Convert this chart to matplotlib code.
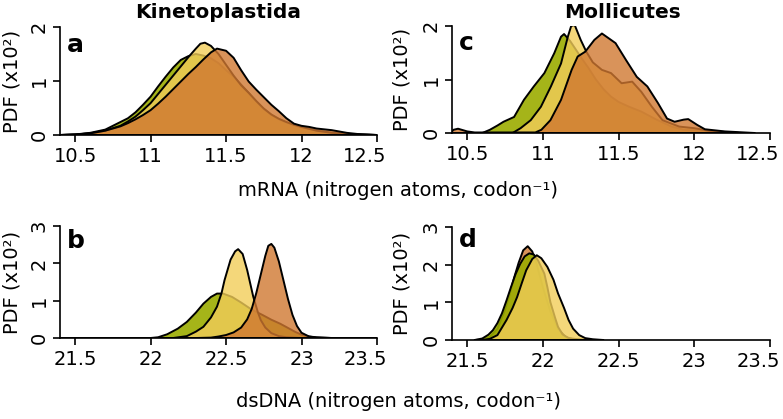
import matplotlib
matplotlib.use("Agg")
import matplotlib.pyplot as plt
import matplotlib.transforms as mtransforms

plt.rcParams['font.family'] = ['DejaVu Sans']

# panel a: Kinetoplastida mRNA
a_green_x = [10.4, 10.5, 10.6, 10.7, 10.8, 10.85, 10.9, 10.95, 11.0, 11.05, 11.1, 11.15, 11.2, 11.25, 11.3,
             11.35, 11.4, 11.45, 11.5, 11.55, 11.6, 11.65, 11.7, 11.75, 11.8, 11.85, 11.9, 11.95, 12.0,
             12.1, 12.2, 12.3, 12.4, 12.5]
a_green_y = [0.0, 0.01, 0.04, 0.1, 0.24, 0.31, 0.42, 0.56, 0.71, 0.9, 1.08, 1.25, 1.39, 1.46, 1.5,
             1.47, 1.42, 1.33, 1.2, 1.08, 0.93, 0.78, 0.62, 0.48, 0.37, 0.29, 0.23, 0.18, 0.14,
             0.08, 0.04, 0.02, 0.01, 0.0]
a_yellow_x = [10.4, 10.5, 10.6, 10.7, 10.8, 10.85, 10.9, 10.95, 11.0, 11.05, 11.1, 11.15, 11.2, 11.25, 11.3,
              11.33, 11.36, 11.4, 11.45, 11.5, 11.55, 11.6, 11.65, 11.7, 11.75, 11.8, 11.85, 11.9, 11.95,
              12.0, 12.1, 12.2, 12.3, 12.4, 12.5]
a_yellow_y = [0.0, 0.01, 0.03, 0.08, 0.17, 0.25, 0.34, 0.46, 0.59, 0.76, 0.93, 1.1, 1.27, 1.44, 1.6,
              1.69, 1.71, 1.65, 1.5, 1.3, 1.1, 0.92, 0.78, 0.63, 0.49, 0.38, 0.3, 0.24, 0.19,
              0.15, 0.08, 0.04, 0.02, 0.01, 0.0]
a_orange_x = [10.4, 10.5, 10.6, 10.7, 10.8, 10.85, 10.9, 10.95, 11.0, 11.05, 11.1, 11.15, 11.2, 11.25, 11.3,
              11.35, 11.4, 11.44, 11.5, 11.55, 11.6, 11.65, 11.7, 11.75, 11.8, 11.85, 11.9, 11.95, 12.0,
              12.05, 12.1, 12.2, 12.3, 12.4, 12.5]
a_orange_y = [0.0, 0.01, 0.03, 0.08, 0.16, 0.22, 0.29, 0.37, 0.46, 0.58, 0.71, 0.85, 0.99, 1.13, 1.26,
              1.4, 1.53, 1.6, 1.56, 1.43, 1.2, 0.99, 0.84, 0.7, 0.56, 0.44, 0.31, 0.21, 0.17,
              0.15, 0.12, 0.09, 0.04, 0.01, 0.0]

# panel c: Mollicutes mRNA
c_green_x = [10.4, 10.6, 10.65, 10.7, 10.74, 10.81, 10.875, 10.94, 11.01, 11.075, 11.12, 11.14, 11.18, 11.22,
             11.26, 11.3, 11.35, 11.4, 11.45, 11.5, 11.57, 11.65, 11.75, 11.85, 11.93, 12.0, 12.1, 12.2, 12.3]
c_green_y = [0.0, 0.0, 0.06, 0.14, 0.21, 0.3, 0.62, 0.87, 1.12, 1.49, 1.8, 1.85, 1.72, 1.55,
             1.38, 1.22, 1.0, 0.82, 0.68, 0.58, 0.49, 0.4, 0.25, 0.12, 0.06, 0.05, 0.04, 0.02, 0.0]
c_yellow_x = [10.4, 10.8, 10.853, 10.92, 10.987, 11.053, 11.12, 11.165, 11.187, 11.21, 11.25, 11.287,
              11.33, 11.39, 11.45, 11.52, 11.59, 11.65, 11.72, 11.79, 11.9, 12.0, 12.1, 12.2, 12.3]
c_yellow_y = [0.0, 0.0, 0.09, 0.24, 0.49, 0.87, 1.3, 1.8, 2.0, 2.02, 1.74, 1.52,
              1.32, 1.18, 1.12, 0.93, 0.96, 0.77, 0.49, 0.24, 0.12, 0.09, 0.04, 0.01, 0.0]
c_orange_x = [10.39, 10.41, 10.44, 10.5, 10.55, 10.95, 10.99, 11.05, 11.12, 11.19, 11.23, 11.28, 11.34, 11.39,
              11.48, 11.55, 11.62, 11.69, 11.76, 11.82, 11.87, 11.93, 11.96, 12.02, 12.07, 12.2, 12.4]
c_orange_y = [0.0, 0.06, 0.08, 0.03, 0.01, 0.01, 0.06, 0.24, 0.62, 1.18, 1.43, 1.52, 1.74, 1.86,
              1.68, 1.36, 1.05, 0.87, 0.56, 0.27, 0.21, 0.25, 0.26, 0.15, 0.07, 0.03, 0.0]

# panel b: Kinetoplastida dsDNA
b_green_x = [21.4, 22.0, 22.05, 22.11, 22.18, 22.24, 22.3, 22.35, 22.4, 22.44, 22.48, 22.54, 22.6, 22.67,
             22.74, 22.8, 22.86, 22.91, 22.96, 23.0, 23.05, 23.1, 23.2, 23.5]
b_green_y = [0.0, 0.0, 0.02, 0.1, 0.25, 0.43, 0.68, 0.92, 1.1, 1.19, 1.19, 1.1, 0.95, 0.76,
             0.62, 0.49, 0.38, 0.27, 0.16, 0.09, 0.04, 0.02, 0.0, 0.0]
b_yellow_x = [22.15, 22.24, 22.3, 22.35, 22.4, 22.44, 22.47, 22.49, 22.53, 22.56, 22.58, 22.61, 22.64,
              22.68, 22.71, 22.73, 22.76, 22.8, 22.85, 22.9, 23.0]
b_yellow_y = [0.0, 0.05, 0.17, 0.3, 0.55, 0.84, 1.2, 1.55, 2.1, 2.32, 2.38, 2.25, 1.82,
              1.11, 0.7, 0.48, 0.28, 0.13, 0.05, 0.02, 0.0]
b_orange_x = [22.3, 22.4, 22.45, 22.5, 22.55, 22.6, 22.64, 22.67, 22.7, 22.73, 22.76, 22.78, 22.8, 22.82,
              22.85, 22.88, 22.91, 22.94, 22.97, 23.0, 23.05, 23.1, 23.2]
b_orange_y = [0.0, 0.01, 0.04, 0.08, 0.15, 0.28, 0.5, 0.78, 1.2, 1.7, 2.2, 2.47, 2.52, 2.42,
              2.05, 1.55, 1.05, 0.62, 0.32, 0.14, 0.04, 0.01, 0.0]

# panel d: Mollicutes dsDNA
d_orange_x = [21.55, 21.6, 21.65, 21.7, 21.75, 21.78, 21.81, 21.84, 21.87, 21.9, 21.93, 21.96, 22.0,
              22.05, 22.1, 22.15, 22.2, 22.3]
d_orange_y = [0.0, 0.01, 0.08, 0.3, 0.8, 1.2, 1.65, 2.05, 2.38, 2.49, 2.35, 2.0, 1.4,
              0.75, 0.3, 0.08, 0.02, 0.0]
d_green_x = [21.55, 21.6, 21.64, 21.67, 21.7, 21.73, 21.76, 21.79, 21.82, 21.85, 21.88, 21.91, 21.94,
             21.97, 22.01, 22.03, 22.05, 22.08, 22.1, 22.13, 22.17, 22.25, 22.3]
d_green_y = [0.0, 0.04, 0.14, 0.26, 0.45, 0.71, 1.05, 1.41, 1.75, 2.02, 2.22, 2.3, 2.27,
             2.1, 1.76, 1.4, 1.0, 0.6, 0.35, 0.15, 0.05, 0.01, 0.0]
d_yellow_x = [21.6, 21.65, 21.7, 21.76, 21.8, 21.83, 21.86, 21.89, 21.93, 21.96, 21.99, 22.03, 22.07,
              22.1, 22.14, 22.17, 22.2, 22.24, 22.28, 22.33, 22.4]
d_yellow_y = [0.0, 0.03, 0.13, 0.53, 0.85, 1.14, 1.5, 1.85, 2.15, 2.25, 2.17, 1.94, 1.6,
              1.24, 0.85, 0.53, 0.3, 0.13, 0.05, 0.02, 0.0]

mrna_ticks = [10.5, 11, 11.5, 12, 12.5]
mrna_labels = ['10.5', '11', '11.5', '12', '12.5']
dna_ticks = [21.5, 22, 22.5, 23, 23.5]
dna_labels = ['21.5', '22', '22.5', '23', '23.5']

GREEN = (155/255, 172/255, 0/255, 0.9)
YELLOW = (242/255, 205/255, 89/255, 0.8)
ORANGE = (208/255, 120/255, 49/255, 0.8)
FS = 14

W, H = 783, 419
fig = plt.figure(figsize=(W/100, H/100), dpi=100)


def px_axes(l, r, t, b):
    return fig.add_axes([l/W, 1 - b/H, (r - l)/W, (b - t)/H])


ax_a = px_axes(60, 377, 27, 135)
ax_c = px_axes(452, 770, 26, 133)
ax_b = px_axes(60, 377, 226, 338)
ax_d = px_axes(452, 770, 227, 340)

panels = [
    (ax_a, 'a', [(a_green_x, a_green_y, GREEN), (a_yellow_x, a_yellow_y, YELLOW), (a_orange_x, a_orange_y, ORANGE)],
     (10.4, 12.5), 2, mrna_ticks, mrna_labels, 0.77, 12),
    (ax_c, 'c', [(c_green_x, c_green_y, GREEN), (c_yellow_x, c_yellow_y, YELLOW), (c_orange_x, c_orange_y, ORANGE)],
     (10.4, 12.5), 2, mrna_ticks, mrna_labels, 0.776, 402),
    (ax_b, 'b', [(b_green_x, b_green_y, GREEN), (b_yellow_x, b_yellow_y, YELLOW), (b_orange_x, b_orange_y, ORANGE)],
     (21.4, 23.5), 3, dna_ticks, dna_labels, 0.80, 12),
    (ax_d, 'd', [(d_orange_x, d_orange_y, ORANGE), (d_green_x, d_green_y, GREEN), (d_yellow_x, d_yellow_y, YELLOW)],
     (21.4, 23.5), 3, dna_ticks, dna_labels, 0.82, 402),
]

for ax, letter, curves, xlim, ytop, xt, xl, ly, ylab_x in panels:
    for x, y, col in curves:
        ax.fill(x, y, facecolor=col, edgecolor='black', linewidth=1.4, joinstyle='round')
    ax.set_xlim(*xlim)
    ax.set_ylim(0, ytop)
    ax.spines['top'].set_visible(False)
    ax.spines['right'].set_visible(False)
    for s in ('left', 'bottom'):
        ax.spines[s].set_linewidth(1.2)
        ax.spines[s].set_zorder(3)
    ax.set_xticks(xt)
    ax.set_xticklabels(xl)
    ax.set_yticks(range(ytop + 1))
    ax.set_yticklabels([str(v) for v in range(ytop + 1)], rotation=90, va='center')
    ax.tick_params(direction='out', length=5, width=1.2, labelsize=FS)
    ax.tick_params(axis='x', pad=3.5)
    ax.tick_params(axis='y', pad=3)
    # last x label sits a bit left of its tick, as in the original
    last = ax.xaxis.get_major_ticks()[-1].label1
    last.set_transform(last.get_transform() + mtransforms.ScaledTranslation(-0.12, 0, fig.dpi_scale_trans))
    ax.text(0.022, ly, letter, transform=ax.transAxes, fontsize=18, fontweight='bold',
            ha='left', va='baseline')
    bb = ax.get_position()
    fig.text(ylab_x/W, (bb.y0 + bb.y1)/2, 'PDF (x10²)', rotation=90, ha='center', va='center', fontsize=FS)

fig.text(218/W, 1 - 12/H, 'Kinetoplastida', ha='center', va='center', fontsize=14.5, fontweight='bold')
fig.text(622/W, 1 - 12/H, 'Mollicutes', ha='center', va='center', fontsize=14.5, fontweight='bold')
fig.text(398/W, 1 - 190/H, 'mRNA (nitrogen atoms, codon⁻¹)', ha='center', va='center', fontsize=FS)
fig.text(398/W, 1 - 401/H, 'dsDNA (nitrogen atoms, codon⁻¹)', ha='center', va='center', fontsize=FS)

fig.savefig('out.png', dpi=100)
